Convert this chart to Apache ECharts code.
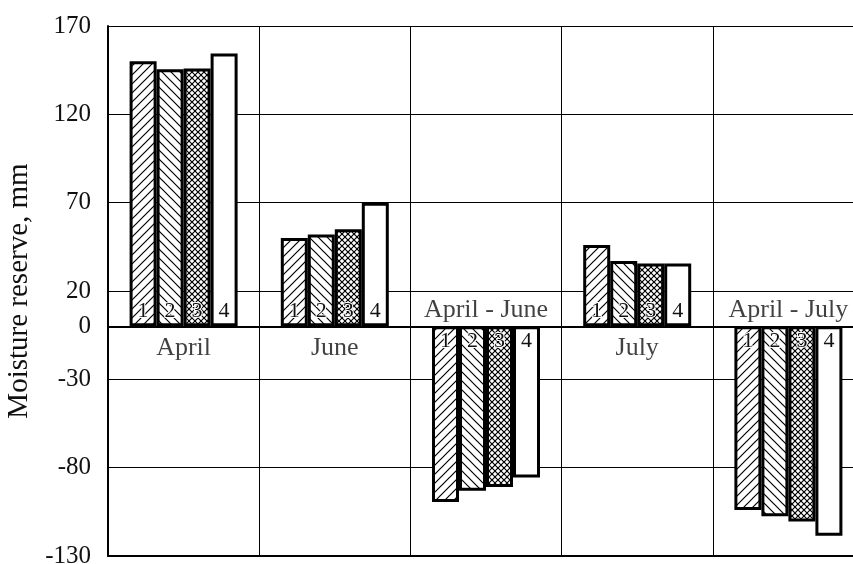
<!DOCTYPE html>
<html>
<head>
<meta charset="utf-8">
<script src="https://cdn.jsdelivr.net/npm/echarts@6/dist/echarts.min.js"></script>
<style>html,body{margin:0;padding:0;background:#fff;}#c{width:853px;height:564px;}</style>
</head>
<body>
<div id="c"></div>
<script>
const categories = ['April', 'June', 'April - June', 'July', 'April - July'];
const seriesNames = ['1', '2', '3', '4'];
const values1 = [150, 50, -99.5, 46, -104];
const values2 = [145.5, 52, -93, 37, -107.5];
const values3 = [146, 55, -91, 35.5, -110.5];
const values4 = [154.5, 70, -85.5, 35.5, -118.5];
const yTickLabels = [170, 120, 70, 20, 0, -30, -80, -130];

const FONT = "'Liberation Serif', 'Times New Roman', serif";

function makePattern(type) {
  const s = type === 'cross' ? 6 : 9;
  const c = document.createElement('canvas');
  c.width = s; c.height = s;
  const ctx = c.getContext('2d');
  ctx.fillStyle = '#fff';
  ctx.fillRect(0, 0, s, s);
  ctx.strokeStyle = '#000';
  ctx.lineWidth = 1.2;
  function slash() {
    ctx.beginPath();
    ctx.moveTo(0, s); ctx.lineTo(s, 0);
    ctx.moveTo(-1, 1); ctx.lineTo(1, -1);
    ctx.moveTo(s - 1, s + 1); ctx.lineTo(s + 1, s - 1);
    ctx.stroke();
  }
  function back() {
    ctx.beginPath();
    ctx.moveTo(0, 0); ctx.lineTo(s, s);
    ctx.moveTo(s - 1, -1); ctx.lineTo(s + 1, 1);
    ctx.moveTo(-1, s - 1); ctx.lineTo(1, s + 1);
    ctx.stroke();
  }
  if (type === 'slash') slash();
  else if (type === 'back') back();
  else { slash(); back(); }
  return { image: c, repeat: 'repeat' };
}

const fills = [makePattern('slash'), makePattern('back'), makePattern('cross'), '#fff'];
const allValues = [values1, values2, values3, values4];

const barSeries = allValues.map((vals, i) => ({
  name: seriesNames[i],
  type: 'bar',
  barWidth: 27,
  barGap: '0%',
  itemStyle: { color: fills[i], borderColor: '#000', borderWidth: 3 },
  label: {
    show: true,
    formatter: '{a}',
    fontFamily: FONT,
    fontSize: 22,
    color: '#111',
    textBorderColor: '#fff',
    textBorderWidth: 2
  },
  data: vals.map(v => ({
    value: v,
    label: { position: v >= 0 ? 'insideBottom' : 'insideTop', distance: 4 }
  })),
  z: 3
}));

const catLabelSeries = {
  type: 'scatter',
  symbolSize: 0,
  silent: true,
  data: categories.map((c, i) => ({
    value: [c, 0],
    label: {
      show: true,
      formatter: c,
      position: values1[i] >= 0 ? 'bottom' : 'top',
      distance: values1[i] >= 0 ? 9 : 3,
      fontFamily: FONT,
      fontSize: 26,
      color: '#111'
    }
  })),
  z: 5
};

const chart = echarts.init(document.getElementById('c'), null, { renderer: 'canvas' });
chart.setOption({
  animation: false,
  backgroundColor: '#fff',
  grid: { left: 108, right: -11, top: 26, bottom: 8, containLabel: false, outerBoundsMode: 'none' },
  xAxis: [{
    type: 'category',
    data: categories,
    boundaryGap: true,
    axisLine: { onZero: true, lineStyle: { color: '#000', width: 2 } },
    axisTick: { show: false },
    axisLabel: { show: false },
    splitLine: { show: true, interval: 0, lineStyle: { color: '#000', width: 1 } },
    z: 4
  }, {
    type: 'category',
    data: categories,
    position: 'bottom',
    axisLine: { onZero: false, show: true, lineStyle: { color: '#000', width: 2 } },
    axisTick: { show: false },
    axisLabel: { show: false },
    splitLine: { show: false }
  }],
  yAxis: {
    type: 'value',
    min: -130,
    max: 170,
    interval: 50,
    name: 'Moisture reserve, mm',
    nameLocation: 'middle',
    nameGap: 70,
    nameTextStyle: { fontFamily: FONT, fontSize: 29, color: '#111' },
    axisLine: { show: true, lineStyle: { color: '#000', width: 2 } },
    axisTick: { show: false },
    axisLabel: {
      customValues: yTickLabels,
      margin: 17,
      fontFamily: FONT,
      fontSize: 25,
      color: '#111'
    },
    splitLine: { show: true, lineStyle: { color: '#000', width: 1 } }
  },
  series: barSeries.concat([catLabelSeries])
});
</script>
</body>
</html>
